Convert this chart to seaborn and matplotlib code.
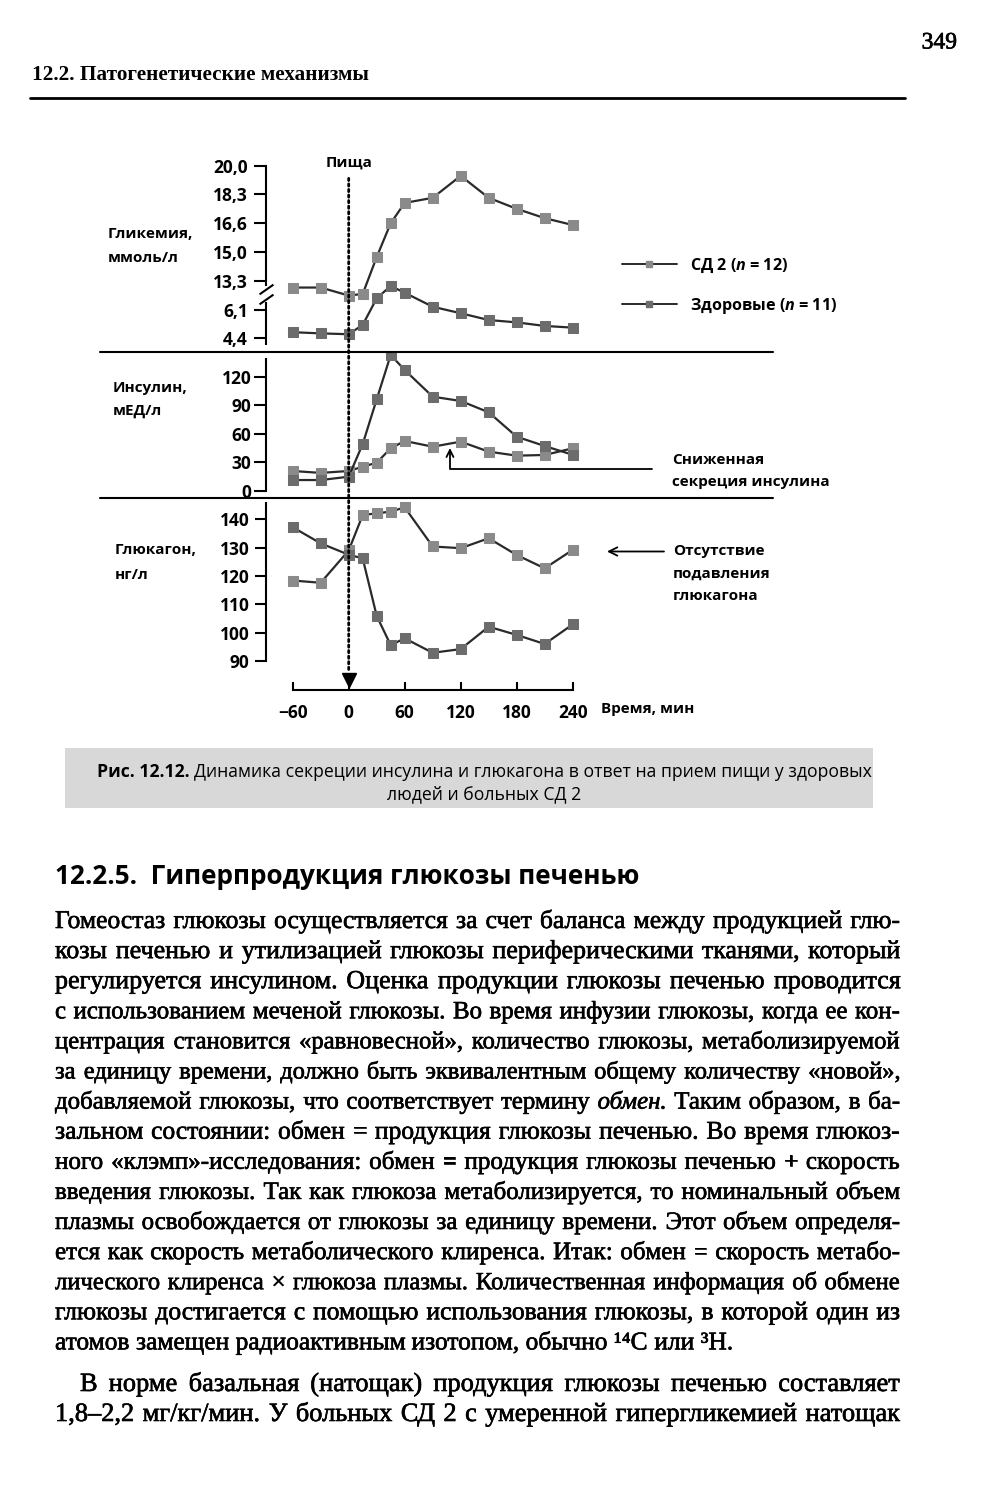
import numpy as np
import pandas as pd
import matplotlib
matplotlib.use('Agg')
import matplotlib.pyplot as plt
import matplotlib.patheffects as pe
import seaborn as sns
from matplotlib.lines import Line2D
from matplotlib.patches import Rectangle, ConnectionPatch
from matplotlib.ticker import NullLocator

# ---------------- data ----------------
time_min = [-60, -30, 0, 15, 30, 45, 60, 90, 120, 150, 180, 210, 240]

glucose_t2d = [11.6, 11.6, 9.6, 10.0, 14.7, 16.6, 17.8, 18.1, 19.4, 18.1, 17.45, 16.9, 16.5]
glucose_healthy = [4.76, 4.69, 4.64, 5.19, 8.9, 12.0, 10.3, 6.8, 5.88, 5.48, 5.34, 5.13, 5.03]

insulin_t2d = [21, 19, 21, 25.5, 29.7, 44.8, 52.5, 46.5, 51.8, 41.3, 37.1, 37.8, 44.8]
insulin_healthy = [11.5, 11.5, 15, 49.3, 96.2, 142.8, 127, 99, 94.5, 82.6, 57, 47.2, 38]

glucagon_t2d = [118.4, 117.6, 129.0, 141.5, 142.1, 142.7, 144.2, 130.4, 129.8, 133.3, 127.4, 122.7, 129.2]
glucagon_healthy = [137.2, 131.5, 127.5, 126.2, 105.9, 95.6, 98.0, 92.9, 94.2, 102.1, 99.2, 96.0, 102.9]

glucose_ticks = [4.4, 6.1, 13.3, 15.0, 16.6, 18.3, 20.0]
glucose_ticklabels = ['4,4', '6,1', '13,3', '15,0', '16,6', '18,3', '20,0']
insulin_ticks = [0, 30, 60, 90, 120]
glucagon_ticks = [90, 100, 110, 120, 130, 140]
time_ticks = [-60, 0, 60, 120, 180, 240]
time_ticklabels = ['\u221260', '0', '60', '120', '180', '240']

series_labels = ['СД 2 ($n$ = 12)', 'Здоровые ($n$ = 11)']
panel_labels = [('Гликемия,', 'ммоль/л'), ('Инсулин,', 'мЕД/л'), ('Глюкагон,', 'нг/л')]
meal_label = 'Пища'
time_label = 'Время, мин'
note_insulin = ['Сниженная', 'секреция инсулина']
note_glucagon = ['Отсутствие', 'подавления', 'глюкагона']

page_number = '349'
running_head = '12.2. Патогенетические механизмы'
caption_bold = 'Рис. 12.12.'
caption_line1 = 'Динамика секреции инсулина и глюкагона в ответ на прием пищи у здоровых'
caption_line2 = 'людей и больных СД 2'
section_title = '12.2.5.  Гиперпродукция глюкозы печенью'
body_lines = [
    'Гомеостаз глюкозы осуществляется за счет баланса между продукцией глю-',
    'козы печенью и утилизацией глюкозы периферическими тканями, который',
    'регулируется инсулином. Оценка продукции глюкозы печенью проводится',
    'с использованием меченой глюкозы. Во время инфузии глюкозы, когда ее кон-',
    'центрация становится «равновесной», количество глюкозы, метаболизируемой',
    'за единицу времени, должно быть эквивалентным общему количеству «новой»,',
    'добавляемой глюкозы, что соответствует термину *обмен.* Таким образом, в ба-',
    'зальном состоянии: обмен = продукция глюкозы печенью. Во время глюкоз-',
    'ного «клэмп»-исследования: обмен = продукция глюкозы печенью + скорость',
    'введения глюкозы. Так как глюкоза метаболизируется, то номинальный объем',
    'плазмы освобождается от глюкозы за единицу времени. Этот объем определя-',
    'ется как скорость метаболического клиренса. Итак: обмен = скорость метабо-',
    'лического клиренса × глюкоза плазмы. Количественная информация об обмене',
    'глюкозы достигается с помощью использования глюкозы, в которой один из',
    'атомов замещен радиоактивным изотопом, обычно ¹⁴C или ³H.',
    'В норме базальная (натощак) продукция глюкозы печенью составляет',
    '1,8–2,2 мг/кг/мин. У больных СД 2 с умеренной гипергликемией натощак',
]

# ---------------- style ----------------
sns.set_style('ticks')
SANS = ['Open Sans', 'DejaVu Sans']
SERIF = ['Liberation Serif', 'DejaVu Serif']
NARROW = ['Liberation Sans Narrow', 'Open Sans', 'DejaVu Sans']
plt.rcParams['font.family'] = SANS
plt.rcParams['font.weight'] = 'bold'
plt.rcParams['mathtext.fontset'] = 'custom'
plt.rcParams['mathtext.rm'] = 'Open Sans:bold'
plt.rcParams['mathtext.it'] = 'Open Sans:italic:bold'
for k in ['text.color', 'axes.edgecolor', 'axes.labelcolor', 'xtick.color', 'ytick.color']:
    plt.rcParams[k] = 'black'
plt.rcParams['axes.linewidth'] = 1.5

LINE_C = '#2a2a2a'
T2D_C = '#8a8a8a'
H_C = '#6c6c6c'
CHART_FS = 11
TICK_FS = 12.5

W, H = 993, 1500
fig = plt.figure(figsize=(W / 100, H / 100), dpi=100)
fig.patch.set_facecolor('white')
renderer = fig.canvas.get_renderer()


def fx(x):
    return x / W


def fy(y):
    return 1 - y / H


def add_px_axes(x0, y0, x1, y1):
    return fig.add_axes([fx(x0), fy(y1), (x1 - x0) / W, (y1 - y0) / H])


def text_w(t):
    return t.get_window_extent(renderer=renderer).width


# piecewise-linear (broken) glucose scale: ticks equally spaced
_gx = np.array(glucose_ticks, float)
_gy = np.arange(len(_gx), dtype=float)


def g_fwd(v):
    v = np.asarray(v, float)
    out = np.interp(v, _gx, _gy)
    out = np.where(v < _gx[0], (v - _gx[0]) / (_gx[1] - _gx[0]), out)
    out = np.where(v > _gx[-1], _gy[-1] + (v - _gx[-1]) / (_gx[-1] - _gx[-2]), out)
    return out


def g_inv(t):
    t = np.asarray(t, float)
    out = np.interp(t, _gy, _gx)
    out = np.where(t < _gy[0], _gx[0] + t * (_gx[1] - _gx[0]), out)
    out = np.where(t > _gy[-1], _gx[-1] + (t - _gy[-1]) * (_gx[-1] - _gx[-2]), out)
    return out


# ---------------- chart axes ----------------
X0, XS = 348.7, 0.9333          # pixel of t=0, pixels per minute
AX_L, AX_R = 266, 600
xlim = ((AX_L - X0) / XS, (AX_R - X0) / XS)

ax_glu = add_px_axes(AX_L, 155, AX_R, 350)
ax_ins = add_px_axes(AX_L, 352, AX_R, 498)
ax_gcg = add_px_axes(AX_L, 500, AX_R, 690)
axes = [ax_glu, ax_ins, ax_gcg]


def draw_pair(ax, y_t2d, y_h):
    sns.lineplot(x=time_min, y=y_t2d, ax=ax, color=LINE_C, lw=1.6, marker='s', markersize=6.5,
                 markerfacecolor=T2D_C, markeredgecolor=T2D_C, errorbar=None, zorder=3)
    sns.lineplot(x=time_min, y=y_h, ax=ax, color=LINE_C, lw=1.6, marker='s', markersize=6.5,
                 markerfacecolor=H_C, markeredgecolor=H_C, errorbar=None, zorder=3)


draw_pair(ax_glu, glucose_t2d, glucose_healthy)
draw_pair(ax_ins, insulin_t2d, insulin_healthy)
draw_pair(ax_gcg, glucagon_t2d, glucagon_healthy)

for ax in axes:
    ax.set_facecolor('none')
    ax.spines[['top', 'right']].set_visible(False)
    ax.spines['left'].set_linewidth(1.5)
    ax.set_xlim(xlim)
    ax.set_xlabel('')
    ax.set_ylabel('')
for ax in (ax_glu, ax_ins):
    ax.spines['bottom'].set_visible(False)
    ax.set_xticks([])

# glucose panel (broken scale)
ax_glu.set_yscale('function', functions=(g_fwd, g_inv))
ax_glu.set_yticks(glucose_ticks, labels=glucose_ticklabels)
ax_glu.yaxis.set_minor_locator(NullLocator())
ax_glu.spines['left'].set_bounds(float(g_inv(1.85)), 20.0)
ytr = ax_glu.get_yaxis_transform()
ax_glu.plot([0, 0], [float(g_inv(-0.23)), float(g_inv(1.27))], transform=ytr, color='k', lw=1.5,
            clip_on=False, solid_capstyle='butt')
for tb in (1.71, 1.37):
    ax_glu.plot([0], [float(g_inv(tb))], transform=ytr, marker=[(-1, -0.7), (1, 0.7)], ms=10,
                mew=1.5, color='k', clip_on=False, linestyle='none')
ax_glu.set_ylim(float(g_inv(-0.407)), float(g_inv(6.371)))
ax_glu.tick_params(axis='y', direction='out', length=9, width=1.5, pad=4, labelsize=TICK_FS)

# insulin panel
ax_ins.set_yticks(insulin_ticks)
ax_ins.set_ylim(-7.35, 145.9)
ax_ins.spines['left'].set_bounds(0, 139)
ax_ins.tick_params(axis='y', direction='out', length=9, width=1.5, pad=1.5, labelsize=TICK_FS)

# glucagon panel
ax_gcg.set_yticks(glucagon_ticks)
ax_gcg.set_ylim(79.77, 146.8)
ax_gcg.spines['left'].set_bounds(90, 145.6)
ax_gcg.spines['bottom'].set_bounds(-60, 240)
ax_gcg.spines['bottom'].set_linewidth(1.5)
ax_gcg.set_xticks(time_ticks, labels=time_ticklabels)
ax_gcg.tick_params(axis='y', direction='out', length=8, width=1.5, pad=4, labelsize=TICK_FS)
ax_gcg.tick_params(axis='x', direction='in', length=6, width=1.5, pad=10, labelsize=TICK_FS)

# meal marker: dotted line across the panels + arrow head
con = ConnectionPatch(xyA=(0, float(g_inv(5.56))), coordsA=ax_glu.transData,
                      xyB=(0, 86.1), coordsB=ax_gcg.transData,
                      color='k', lw=2.0, linestyle=(0, (0.8, 1.2)), arrowstyle='-')
fig.add_artist(con)
ax_gcg.plot([0], [83.3], marker='v', ms=10, color='k', clip_on=False, linestyle='none')
fig.text(fx(349), fy(163), meal_label, ha='center', va='center', fontsize=CHART_FS)

# panel labels
label_pos = [(108, 234, 258), (113, 388, 411), (115, 550, 575)]
for (l1, l2), (x, y1, y2) in zip(panel_labels, label_pos):
    fig.text(fx(x), fy(y1), l1, ha='left', va='center', fontsize=CHART_FS)
    fig.text(fx(x), fy(y2), l2, ha='left', va='center', fontsize=CHART_FS)

fig.text(fx(601), fy(709), time_label, ha='left', va='center', fontsize=CHART_FS)

# separators
for yy in (352, 498):
    fig.add_artist(Line2D([fx(100), fx(773)], [fy(yy), fy(yy)], transform=fig.transFigure,
                          color='k', lw=1.5))

# legend
handles = [Line2D([], [], color=LINE_C, lw=1.4, marker='s', ms=5, mfc=T2D_C, mec=T2D_C),
           Line2D([], [], color=LINE_C, lw=1.4, marker='s', ms=5, mfc=H_C, mec=H_C)]
fig.legend(handles, series_labels, loc='upper left', bbox_to_anchor=(fx(622), fy(257)),
           frameon=False, fontsize=11.6, handlelength=3.4, handletextpad=0.8,
           labelspacing=1.3, borderpad=0, borderaxespad=0, numpoints=1)

# annotations
for s, yy in zip(note_insulin, (460, 482)):
    fig.text(fx(672), fy(yy), s, ha='left', va='center', fontsize=CHART_FS)
for s, yy in zip(note_glucagon, (551, 574, 596)):
    fig.text(fx(673), fy(yy), s, ha='left', va='center', fontsize=CHART_FS)

ax_ins.annotate('', xy=(108.5, 45.1), xytext=((652 - X0) / XS, 23.1),
                arrowprops=dict(arrowstyle='->,head_length=0.5,head_width=0.25',
                                connectionstyle='angle,angleA=0,angleB=90,rad=0',
                                lw=1.3, color='k', shrinkA=0, shrinkB=0),
                annotation_clip=False)
ax_gcg.annotate('', xy=(fx(607), fy(551.5)), xycoords='figure fraction',
                xytext=(fx(664), fy(551.5)), textcoords='figure fraction',
                arrowprops=dict(arrowstyle='->,head_length=0.6,head_width=0.3',
                                lw=1.3, color='k', shrinkA=0, shrinkB=0))

# ---------------- page furniture ----------------
thick = [pe.withStroke(linewidth=0.45, foreground='black')]
fig.text(fx(957), fy(43), page_number, ha='right', va='center', fontsize=17,
         family=SERIF, weight='normal', path_effects=thick)
rh = fig.text(fx(32), fy(75), running_head, ha='left', va='center', fontsize=12,
              family=SERIF, weight='bold')
rh.set_fontsize(12 * 338 / text_w(rh))
fig.add_artist(Line2D([fx(30), fx(905)], [fy(98), fy(98)], transform=fig.transFigure,
                      color='k', lw=2.0))

# caption
fig.add_artist(Rectangle((fx(65), fy(808)), (873 - 65) / W, (808 - 748) / H,
                         transform=fig.transFigure, facecolor='#d8d8d8', edgecolor='none', zorder=0))
cb = fig.text(0, fy(772), caption_bold, fontsize=12, family=NARROW, weight='bold', va='center')
c1 = fig.text(0, fy(772), caption_line1, fontsize=12, family=NARROW, weight='normal', va='center')
sp = 0.27 * 12 * 100 / 72
k = 773 / (text_w(cb) + sp + text_w(c1))
cap_size = 12 * k
cb.set_fontsize(cap_size)
c1.set_fontsize(cap_size)
sp = 0.27 * cap_size * 100 / 72
cb.set_x(fx(97))
c1.set_x(fx(97 + text_w(cb) + sp))
fig.text(fx(484), fy(794), caption_line2, fontsize=cap_size, family=NARROW, weight='normal',
         ha='center', va='center')

# section heading
st = fig.text(fx(55), fy(876), section_title, ha='left', va='center', fontsize=16,
              family=SANS, weight='bold')
st.set_fontsize(16 * 587 / text_w(st))

# body text, justified
BODY_L, BODY_R = 55, 900
body_baselines = [928 + 30.1 * i for i in range(15)] + [1391, 1421]
body_indent = [0] * 15 + [25, 0]
body_justify = [True] * 14 + [False, True, True]


def make_words(line, size):
    out = []
    for w in line.split(' '):
        it = '*' in w
        t = fig.text(0, 0, w.replace('*', ''), fontsize=size, family=SERIF, weight='normal',
                     style='italic' if it else 'normal', va='baseline', ha='left',
                     path_effects=thick)
        out.append(t)
    return out


base = 10.0
fit_ratio = []
for i, line in enumerate(body_lines):
    ws = make_words(line, base)
    nat = sum(text_w(t) for t in ws) + (len(ws) - 1) * 0.25 * base * 100 / 72
    for t in ws:
        t.remove()
    avail = (BODY_R - BODY_L - body_indent[i]) if body_justify[i] else 680
    fit_ratio.append(avail / nat)
body_size = base * min(fit_ratio) * 0.995

for i, line in enumerate(body_lines):
    size_i = min(base * fit_ratio[i] * 0.985, body_size * 1.07)
    if not body_justify[i]:
        size_i = min(base * fit_ratio[i], body_size * 1.07)
    ws = make_words(line, size_i)
    widths = [text_w(t) for t in ws]
    x_left = BODY_L + body_indent[i]
    if body_justify[i] and len(ws) > 1:
        gap = (BODY_R - x_left - sum(widths)) / (len(ws) - 1)
    else:
        gap = 0.27 * size_i * 100 / 72
    x = x_left
    for t, w in zip(ws, widths):
        t.set_position((fx(x), fy(body_baselines[i])))
        x += w + gap

fig.savefig('out.png', dpi=100, facecolor='white')
